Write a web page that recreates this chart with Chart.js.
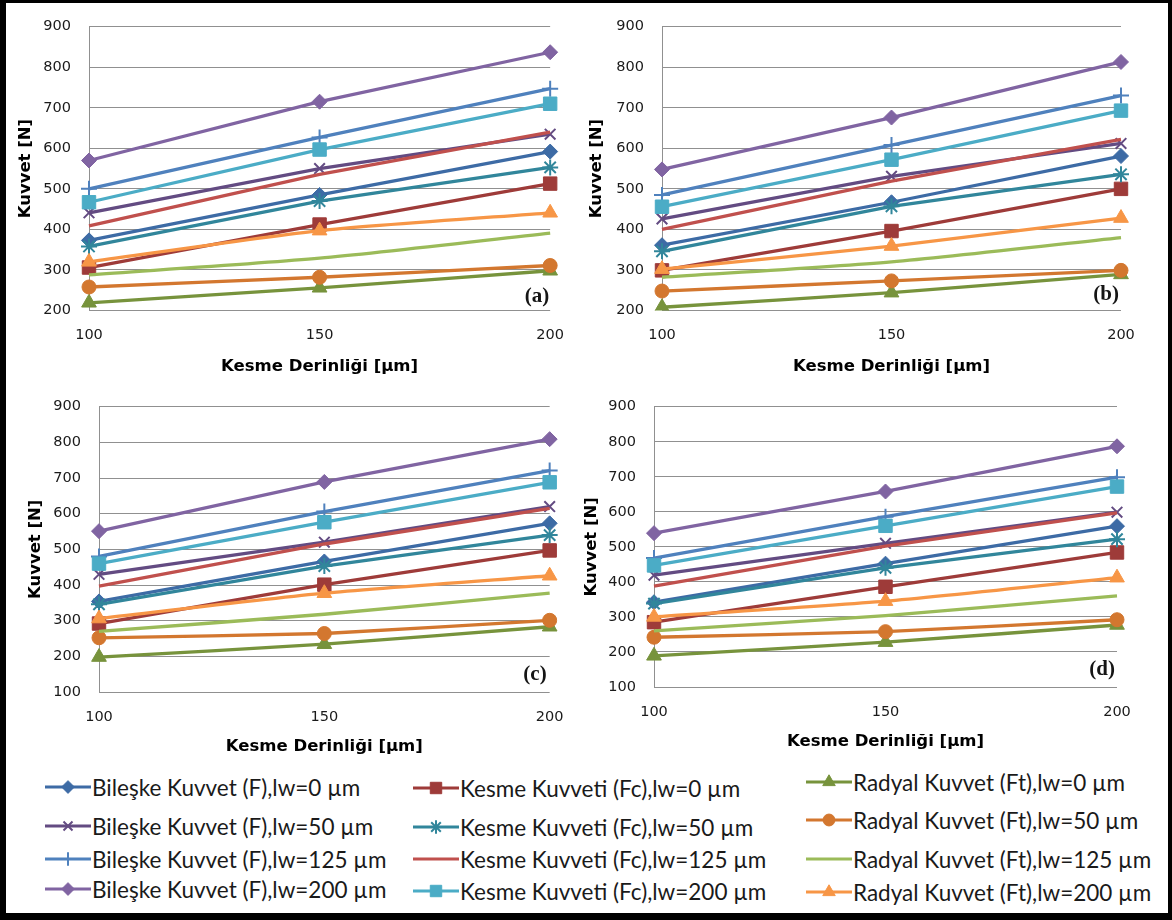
<!DOCTYPE html>
<html>
<head>
<meta charset="utf-8">
<script src="https://cdn.jsdelivr.net/npm/chart.js@4.4.1/dist/chart.umd.min.js"></script>
<style>
html,body{margin:0;padding:0;background:#fff;}
#root{position:relative;width:1172px;height:920px;overflow:hidden;background:#fff;}
canvas.panel{position:absolute;}
#frame{position:absolute;left:0;top:0;width:1172px;height:920px;box-sizing:border-box;border-style:solid;border-color:#000;border-width:3px 4px 7px 6px;pointer-events:none;}
.lg{position:absolute;height:26px;display:flex;align-items:center;white-space:nowrap;font-family:Lato,"Liberation Sans",sans-serif;font-size:22.5px;color:#1a1a1a;}
.lg canvas{display:block;margin-right:1px;}
</style>
</head>
<body>
<div id="root">
  <canvas id="pa" class="panel" width="580" height="380" style="left:0px;top:0px"></canvas>
  <canvas id="pb" class="panel" width="592" height="380" style="left:580px;top:0px"></canvas>
  <canvas id="pc" class="panel" width="580" height="380" style="left:0px;top:380px"></canvas>
  <canvas id="pd" class="panel" width="592" height="380" style="left:580px;top:380px"></canvas>
  <div id="legend"></div>
  <div id="frame"></div>
</div>
<script>
// ---- Data ----
const xLabels = ['100', '150', '200'];
const xTitle = 'Kesme Derinliği [µm]';
const yTitle = 'Kuvvet [N]';
const yTicksTop = [200, 300, 400, 500, 600, 700, 800, 900];
const yTicksBottom = [100, 200, 300, 400, 500, 600, 700, 800, 900];

const seriesNames = [
  'Bileşke Kuvvet (F),lw=0 µm',
  'Kesme Kuvveti (Fc),lw=0 µm',
  'Radyal Kuvvet (Ft),lw=0 µm',
  'Bileşke Kuvvet (F),lw=50 µm',
  'Kesme Kuvveti (Fc),lw=50 µm',
  'Radyal Kuvvet (Ft),lw=50 µm',
  'Bileşke Kuvvet (F),lw=125 µm',
  'Kesme Kuvveti (Fc),lw=125 µm',
  'Radyal Kuvvet (Ft),lw=125 µm',
  'Bileşke Kuvvet (F),lw=200 µm',
  'Kesme Kuvveti (Fc),lw=200 µm',
  'Radyal Kuvvet (Ft),lw=200 µm'
];

// values per panel, one row per series (same order as seriesNames), columns = xLabels
const panelA = [
  [373, 485, 592],
  [306, 412, 513],
  [219, 256, 298],
  [441, 550, 635],
  [358, 470, 553],
  [258, 282, 311],
  [500, 627, 747],
  [409, 536, 640],
  [288, 329, 391],
  [570, 715, 837],
  [467, 597, 710],
  [320, 397, 441]
];
const panelB = [
  [361, 467, 581],
  [299, 396, 500],
  [208, 244, 289],
  [426, 531, 612],
  [346, 457, 536],
  [248, 273, 299],
  [485, 608, 730],
  [400, 519, 622],
  [282, 320, 380],
  [548, 676, 813],
  [456, 572, 693],
  [302, 359, 428]
];
const panelC = [
  [354, 466, 573],
  [292, 401, 497],
  [198, 234, 283],
  [430, 520, 620],
  [346, 453, 540],
  [252, 264, 301],
  [480, 606, 721],
  [397, 515, 615],
  [270, 318, 377],
  [551, 689, 809],
  [460, 576, 688],
  [306, 377, 426]
];
const panelD = [
  [342, 452, 559],
  [285, 386, 484],
  [189, 228, 277],
  [419, 510, 599],
  [338, 440, 522],
  [242, 258, 292],
  [468, 586, 699],
  [388, 502, 597],
  [260, 304, 360],
  [539, 658, 787],
  [447, 560, 672],
  [300, 345, 412]
];
const panelLetters = ['(a)', '(b)', '(c)', '(d)'];

// ---- Styles ----
const colors = ['#3D6BA5', '#9E3B39', '#77933C', '#634B82', '#31869B', '#D3772F',
                '#4F81BD', '#C0504D', '#9BBB59', '#8064A2', '#4BACC6', '#F79646'];
const markers = ['rectRot', 'rect', 'triangle', 'crossRot', 'star', 'circle',
                 'cross', false, false, 'rectRot', 'rect', 'triangle'];
const markerRadius = [7.5, 9.5, 8.5, 7.5, 8, 7, 8, 0, 0, 7.5, 9.5, 8.5];
const smooth = [0, 0, 0.25, 0, 0, 0.15, 0, 0, 0.25, 0, 0, 0.2];

const tickFont = {family: '"DejaVu Sans", Verdana, sans-serif', size: 14.5};
const titleFont = {family: '"DejaVu Sans", Verdana, sans-serif', size: 16.5, weight: 'bold', lineHeight: 1.2};
const gridColor = '#909090';
const textColor = '#1a1a1a';

const letterPlugin = {
  id: 'panelLetter',
  afterDraw(chart, args, opts) {
    const {ctx, chartArea} = chart;
    ctx.save();
    ctx.font = 'bold 21px "Liberation Serif", "DejaVu Serif", serif';
    ctx.fillStyle = '#151515';
    ctx.textAlign = 'right';
    ctx.textBaseline = 'middle';
    ctx.fillText(opts.text, chartArea.right + opts.dx, chartArea.bottom + opts.dy);
    ctx.restore();
  }
};

function makePanel(id, values, yMin, geo, letter) {
  const datasets = values.map((vals, i) => ({
    label: seriesNames[i],
    data: vals,
    borderColor: colors[i],
    backgroundColor: colors[i],
    pointBackgroundColor: colors[i],
    pointBorderColor: colors[i],
    borderWidth: 3.3,
    pointStyle: markers[i] || 'circle',
    pointRadius: markers[i] ? markerRadius[i] : 0,
    pointBorderWidth: (markers[i] === 'cross' || markers[i] === 'crossRot' || markers[i] === 'star') ? 2 : 1,
    tension: smooth[i],
    fill: false,
    order: -i
  }));
  return new Chart(document.getElementById(id), {
    type: 'line',
    data: {labels: xLabels, datasets},
    plugins: [letterPlugin],
    options: {
      responsive: false,
      animation: false,
      events: [],
      layout: {padding: {left: 0, bottom: 0, top: geo.top, right: geo.right}},
      plugins: {
        legend: {display: false},
        tooltip: {enabled: false},
        panelLetter: {text: letter, dx: geo.ldx, dy: geo.ldy}
      },
      scales: {
        x: {
          type: 'category',
          offset: false,
          grid: {display: false, drawTicks: false},
          border: {display: false},
          ticks: {font: tickFont, color: textColor, padding: geo.xtp, maxRotation: 0, autoSkip: false},
          title: {display: true, text: xTitle, font: titleFont, color: '#000', padding: {top: 0, bottom: geo.xtt}},
          afterFit(s) { s.height = geo.xh; }
        },
        y: {
          min: yMin,
          max: 900,
          afterBuildTicks(s) { s.ticks = (yMin === 200 ? yTicksTop : yTicksBottom).map(v => ({value: v})); },
          grid: {color: gridColor, lineWidth: 1, drawTicks: false},
          border: {display: true, color: gridColor, width: 1},
          ticks: {font: tickFont, color: textColor, padding: 18},
          title: {display: true, text: yTitle, font: titleFont, color: '#000', padding: {top: geo.ytt, bottom: 0}},
          afterFit(s) { s.width = geo.yw; }
        }
      }
    }
  });
}

makePanel('pa', panelA, 200, {top: 20.5, right: 22, yw: 89, xh: 69.5, xtp: 16, xtt: 3, ytt: 16, ldx: -1, ldy: -14}, panelLetters[0]);
makePanel('pb', panelB, 200, {top: 20.5, right: 51, yw: 82, xh: 69.5, xtp: 16, xtt: 3, ytt: 7, ldx: -2, ldy: -16}, panelLetters[1]);
makePanel('pc', panelC, 100, {top: 19, right: 18, yw: 99, xh: 68, xtp: 16.5, xtt: 3.5, ytt: 26, ldx: -3, ldy: -17}, panelLetters[2]);
makePanel('pd', panelD, 100, {top: 15, right: 55, yw: 74, xh: 73, xtp: 17, xtt: 8.5, ytt: 2, ldx: -2, ldy: -17}, panelLetters[3]);

// ---- Legend (HTML, markers drawn with Chart.js helpers) ----
const legendCols = [45, 413, 806];
const legendRows = [
  [787, 826, 859, 889],
  [788, 827, 859, 891],
  [782, 820, 859, 892]
];
const legendEl = document.getElementById('legend');
seriesNames.forEach((name, i) => {
  const col = i % 3, row = Math.floor(i / 3);
  const item = document.createElement('div');
  item.className = 'lg';
  item.style.left = legendCols[col] + 'px';
  item.style.top = (legendRows[col][row] - 13) + 'px';
  const cv = document.createElement('canvas');
  cv.width = 46; cv.height = 22;
  item.appendChild(cv);
  const span = document.createElement('span');
  span.textContent = name;
  item.appendChild(span);
  legendEl.appendChild(item);
  const ctx = cv.getContext('2d');
  ctx.strokeStyle = colors[i];
  ctx.fillStyle = colors[i];
  ctx.lineWidth = 3;
  ctx.beginPath();
  ctx.moveTo(0, 11); ctx.lineTo(46, 11);
  ctx.stroke();
  if (markers[i]) {
    const isLine = markers[i] === 'cross' || markers[i] === 'crossRot' || markers[i] === 'star';
    ctx.lineWidth = isLine ? 2 : 1;
    const opts = {pointStyle: markers[i], radius: markerRadius[i] * 0.85, borderWidth: ctx.lineWidth, rotation: 0};
    if (Chart.helpers && Chart.helpers.drawPoint) {
      Chart.helpers.drawPoint(ctx, opts, 23, 11);
    }
  }
});
</script>
</body>
</html>
